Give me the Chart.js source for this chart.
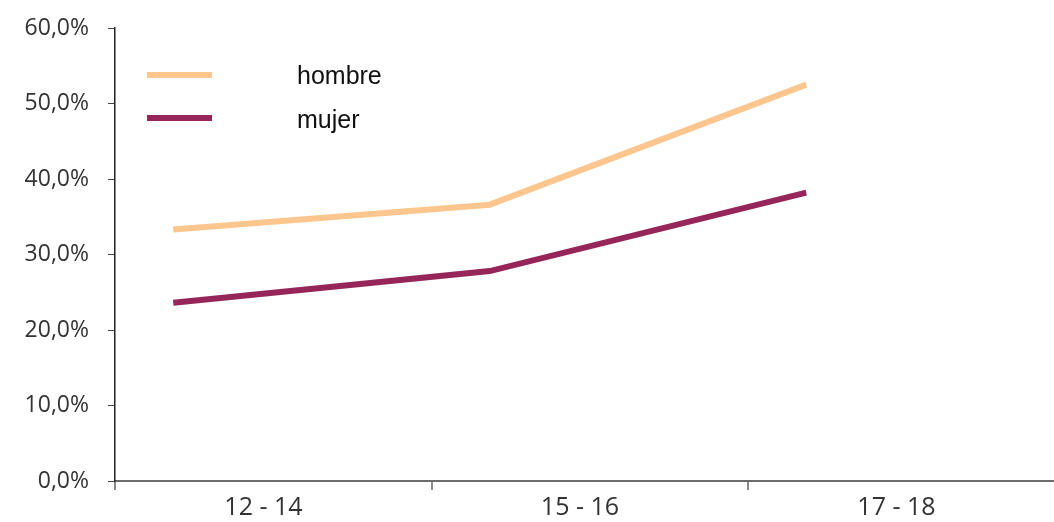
<!DOCTYPE html>
<html>
<head>
<meta charset="utf-8">
<script src="https://cdn.jsdelivr.net/npm/chart.js@4.4.0/dist/chart.umd.min.js"></script>
<style>
  html, body { margin: 0; padding: 0; background: #fff; }
  #wrap { width: 1054px; height: 522px; position: relative; }
</style>
</head>
<body>
<div id="wrap"><canvas id="c" width="1054" height="522"></canvas></div>
<script>
// ---- data ----
const categories = ['12 - 14', '15 - 16', '17 - 18'];
const hombre = [33.3, 36.6, 52.5];
const mujer = [23.6, 27.8, 38.2];
const seriesNames = ['hombre', 'mujer'];
const yTicks = [0, 10, 20, 30, 40, 50, 60];

const colHombre = 'rgb(252,198,142)';
const colMujer = 'rgb(150,38,90)';

// layout helpers (positions of category boundaries / labels on linear x scale)
const BOUND_OFF = -0.184;
const LABEL_OFF = 0.285;

const toPoints = arr => arr.map((v, i) => ({ x: i, y: v }));

const legendPlugin = {
  id: 'customLegend',
  afterDraw(chart) {
    const ctx = chart.ctx;
    const items = chart.data.datasets;
    const rows = [75, 118];
    const textY = [77, 121];
    ctx.save();
    items.forEach((ds, i) => {
      ctx.strokeStyle = ds.borderColor;
      ctx.lineWidth = 6;
      ctx.lineCap = 'butt';
      ctx.beginPath();
      ctx.moveTo(147, rows[i]);
      ctx.lineTo(212, rows[i]);
      ctx.stroke();
      ctx.fillStyle = '#111';
      ctx.font = '25px "Liberation Sans", Arial, sans-serif';
      ctx.textBaseline = 'middle';
      ctx.textAlign = 'left';
      ctx.fillText(ds.label, 297, textY[i]);
    });
    ctx.restore();
  }
};

new Chart(document.getElementById('c'), {
  type: 'line',
  data: {
    datasets: [
      { label: seriesNames[0], data: toPoints(hombre), borderColor: colHombre, backgroundColor: colHombre,
        borderWidth: 6, pointRadius: 0, tension: 0, borderCapStyle: 'butt', borderJoinStyle: 'miter' },
      { label: seriesNames[1], data: toPoints(mujer), borderColor: colMujer, backgroundColor: colMujer,
        borderWidth: 6, pointRadius: 0, tension: 0, borderCapStyle: 'butt', borderJoinStyle: 'miter' }
    ]
  },
  options: {
    responsive: false,
    animation: false,
    events: [],
    layout: { padding: { top: 28, right: 0, bottom: 0, left: 0 } },
    plugins: { legend: { display: false }, tooltip: { enabled: false } },
    scales: {
      x: {
        type: 'linear',
        min: BOUND_OFF,
        max: BOUND_OFF + 939 / 316.5,
        afterBuildTicks(scale) {
          const t = [];
          categories.forEach((c, i) => {
            t.push({ value: i + BOUND_OFF });
            t.push({ value: i + LABEL_OFF });
          });
          scale.ticks = t;
        },
        afterFit(scale) {
          scale.height = 41;
          scale.paddingLeft = 0; scale.paddingRight = 0;
          scale.paddingTop = 0; scale.paddingBottom = 0;
        },
        border: { display: true, color: '#6b6b6b', width: 2 },
        grid: {
          drawOnChartArea: false,
          drawTicks: true,
          tickLength: 9,
          lineWidth: 2,
          color: ctx => (ctx.index % 2 === 0 ? '#8a8a8a' : 'rgba(0,0,0,0)')
        },
        ticks: {
          autoSkip: false,
          maxRotation: 0,
          minRotation: 0,
          padding: 3,
          color: '#333',
          font: { family: '"Open Sans", sans-serif', size: 25 },
          callback: (v, i) => (i % 2 === 1 ? categories[(i - 1) / 2] : '')
        }
      },
      y: {
        min: 0,
        max: 60,
        afterBuildTicks(scale) { scale.ticks = yTicks.map(v => ({ value: v })); },
        afterFit(scale) {
          scale.width = 115;
          scale.paddingTop = 0; scale.paddingBottom = 0;
          scale.paddingLeft = 0; scale.paddingRight = 0;
        },
        border: { display: true, color: '#222', width: 1.5 },
        grid: { drawOnChartArea: false, drawTicks: true, tickLength: 7, color: '#444', lineWidth: 1 },
        ticks: {
          padding: 19,
          color: '#333',
          font: { family: '"Open Sans", sans-serif', size: 23 },
          callback: v => v.toFixed(1).replace('.', ',') + '%'
        }
      }
    }
  },
  plugins: [legendPlugin]
});
</script>
</body>
</html>
